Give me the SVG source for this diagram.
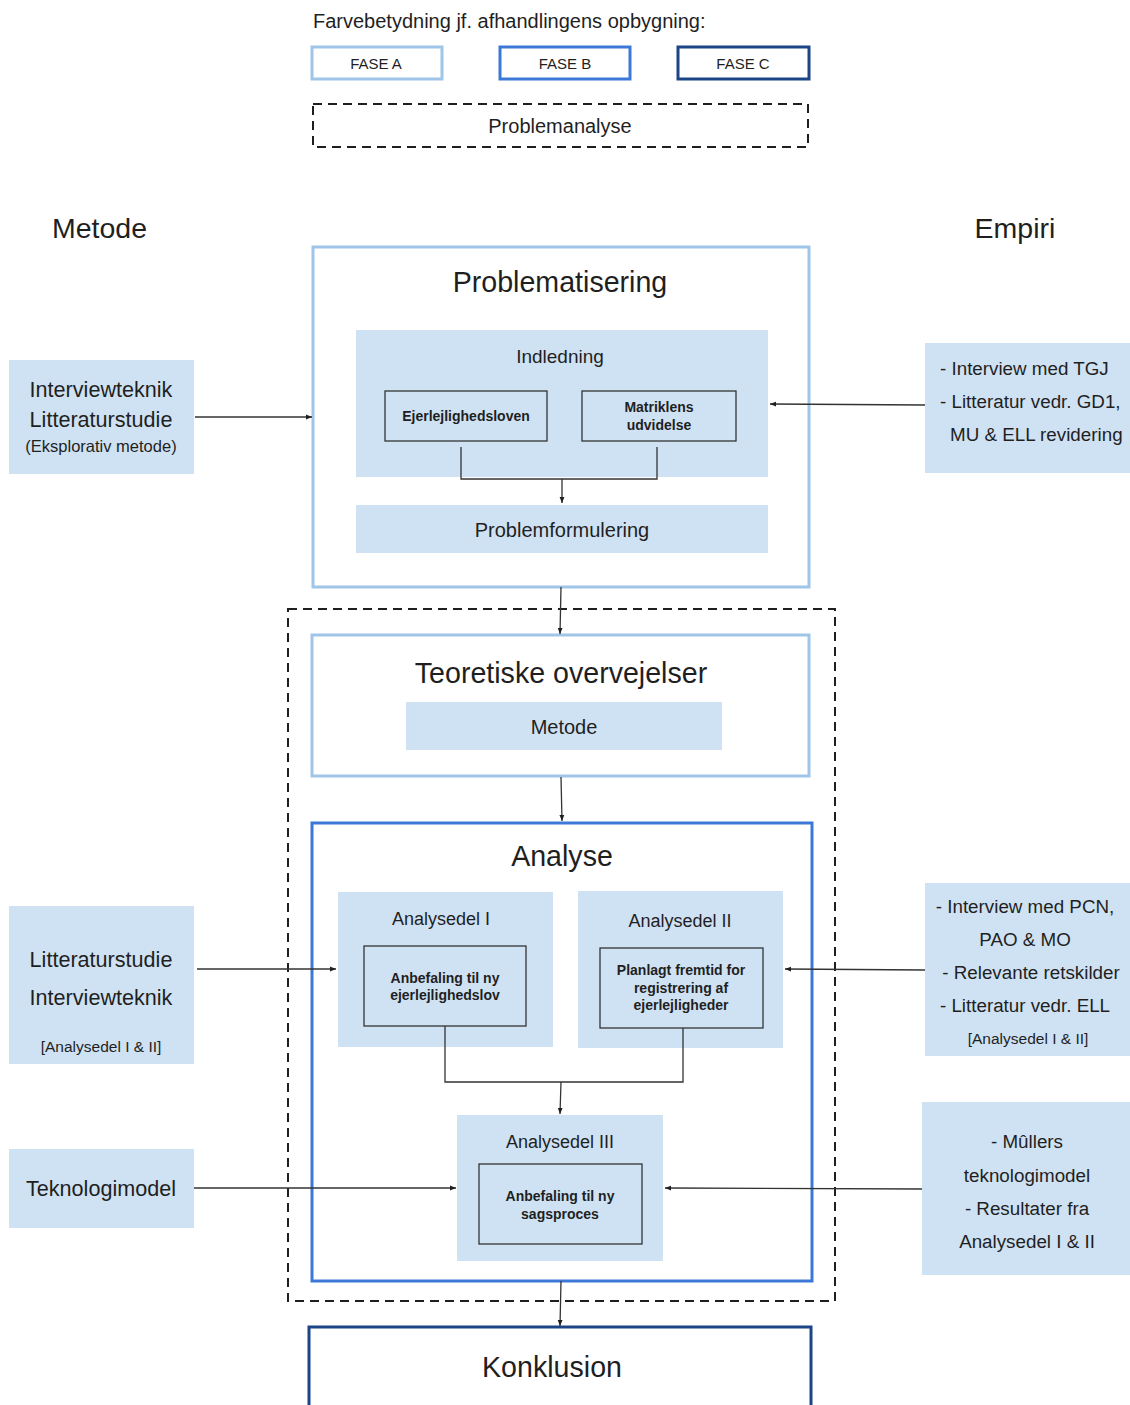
<svg xmlns="http://www.w3.org/2000/svg" width="1130" height="1405" viewBox="0 0 1130 1405">
  <style>
    text { font-family: "Liberation Sans", Arial, sans-serif; fill: #1f1f1f; }
    .fill { fill: #cfe2f3; }
    .faseA { fill: #ffffff; stroke: #9fc5e8; stroke-width: 3; }
    .faseB { fill: #ffffff; stroke: #3c78d8; stroke-width: 3; }
    .faseC { fill: #ffffff; stroke: #1c4587; stroke-width: 3; }
    .inner { fill: none; stroke: #333333; stroke-width: 1.3; }
    .dash { fill: none; stroke: #1f1f1f; stroke-width: 2; stroke-dasharray: 9 6; }
    .conn { fill: none; stroke: #333333; stroke-width: 1.3; }
    .title { font-size: 28.6px; text-anchor: middle; }
    .sub { font-size: 19px; text-anchor: middle; }
    .bold { font-size: 14px; font-weight: bold; text-anchor: middle; }
    .side { font-size: 21.6px; text-anchor: middle; }
    .emp { font-size: 18.8px; }
    .small { font-size: 15.5px; text-anchor: middle; }
    .fase { font-size: 15px; text-anchor: middle; }
  </style>
  <defs>
    <marker id="arrow" viewBox="0 0 10 10" refX="10" refY="5" markerWidth="6" markerHeight="6" orient="auto" markerUnits="userSpaceOnUse">
      <path d="M0,1 L10,5 L0,9 z" fill="#1f1f1f"/>
    </marker>
  </defs>

  <!-- Legend -->
  <g id="legend">
    <text x="313" y="28" style="font-size:20px">Farvebetydning jf. afhandlingens opbygning:</text>
    <rect class="faseA" x="312" y="47" width="130" height="32"/>
    <text class="fase" x="376" y="69">FASE A</text>
    <rect class="faseB" x="500" y="47" width="130" height="32"/>
    <text class="fase" x="565" y="69">FASE B</text>
    <rect class="faseC" x="678" y="47" width="131" height="32"/>
    <text class="fase" x="743" y="69">FASE C</text>
    <rect class="dash" x="313" y="104" width="495" height="43"/>
    <text x="560" y="133" style="font-size:20px;text-anchor:middle">Problemanalyse</text>
  </g>

  <g id="headings">
    <text x="52" y="238" style="font-size:28.5px">Metode</text>
    <text x="1015" y="238" style="font-size:28.5px;text-anchor:middle">Empiri</text>
  </g>

  <!-- Problematisering -->
  <g id="problematisering">
    <rect class="faseA" x="313" y="247" width="496" height="340"/>
    <text class="title" x="560" y="292">Problematisering</text>
  </g>
  <g id="indledning">
    <rect class="fill" x="356" y="330" width="412" height="147"/>
    <text class="sub" x="560" y="363">Indledning</text>
  </g>
  <g id="ejerlejlighedsloven">
    <rect class="inner" x="385" y="391" width="162" height="50"/>
    <text class="bold" x="466" y="421">Ejerlejlighedsloven</text>
  </g>
  <g id="matriklens">
    <rect class="inner" x="582" y="391" width="154" height="50"/>
    <text class="bold" x="659" y="412">Matriklens</text>
    <text class="bold" x="659" y="430">udvidelse</text>
  </g>
  <g id="problemformulering">
    <rect class="fill" x="356" y="505" width="412" height="48"/>
    <text x="562" y="537" style="font-size:20px;text-anchor:middle">Problemformulering</text>
  </g>

  <!-- Side boxes, top -->
  <g id="metode-1">
    <rect class="fill" x="9" y="360" width="185" height="114"/>
    <text class="side" x="101" y="397">Interviewteknik</text>
    <text class="side" x="101" y="427">Litteraturstudie</text>
    <text x="101" y="452" style="font-size:16.5px;text-anchor:middle">(Eksplorativ metode)</text>
  </g>
  <g id="empiri-1">
    <rect class="fill" x="925" y="343" width="205" height="130"/>
    <text class="emp" x="940" y="375">- Interview med TGJ</text>
    <text class="emp" x="940" y="408">- Litteratur vedr. GD1,</text>
    <text class="emp" x="950" y="441">MU &amp; ELL revidering</text>
  </g>

  <!-- Dashed frame around theory and analysis -->
  <g id="frame">
    <rect class="dash" x="288" y="609" width="547" height="692"/>
  </g>

  <g id="teoretiske">
    <rect class="faseA" x="312" y="635" width="497" height="141"/>
    <text class="title" x="561" y="683">Teoretiske overvejelser</text>
  </g>
  <g id="metode">
    <rect class="fill" x="406" y="702" width="316" height="48"/>
    <text x="564" y="734" style="font-size:20px;text-anchor:middle">Metode</text>
  </g>

  <!-- Analyse -->
  <g id="analyse">
    <rect class="faseB" x="312" y="823" width="500" height="458"/>
    <text class="title" x="562" y="866">Analyse</text>
  </g>
  <g id="analysedel-1">
    <rect class="fill" x="338" y="892" width="215" height="155"/>
    <text x="441" y="925" style="font-size:18px;text-anchor:middle">Analysedel I</text>
    <rect class="inner" x="364" y="946" width="162" height="80"/>
    <text class="bold" x="445" y="983">Anbefaling til ny</text>
    <text class="bold" x="445" y="1000">ejerlejlighedslov</text>
  </g>
  <g id="analysedel-2">
    <rect class="fill" x="578" y="891" width="205" height="157"/>
    <text x="680" y="927" style="font-size:18px;text-anchor:middle">Analysedel II</text>
    <rect class="inner" x="600" y="948" width="163" height="80"/>
    <text class="bold" x="681" y="975">Planlagt fremtid for</text>
    <text class="bold" x="681" y="993">registrering af</text>
    <text class="bold" x="681" y="1010">ejerlejligheder</text>
  </g>
  <g id="analysedel-3">
    <rect class="fill" x="457" y="1115" width="206" height="146"/>
    <text x="560" y="1148" style="font-size:18px;text-anchor:middle">Analysedel III</text>
    <rect class="inner" x="479" y="1164" width="163" height="80"/>
    <text class="bold" x="560" y="1201">Anbefaling til ny</text>
    <text class="bold" x="560" y="1219">sagsproces</text>
  </g>

  <!-- Side boxes, analysis -->
  <g id="metode-2">
    <rect class="fill" x="9" y="906" width="185" height="158"/>
    <text class="side" x="101" y="967">Litteraturstudie</text>
    <text class="side" x="101" y="1005">Interviewteknik</text>
    <text class="small" x="101" y="1052">[Analysedel I &amp; II]</text>
  </g>
  <g id="empiri-2">
    <rect class="fill" x="925" y="883" width="205" height="173"/>
    <text class="emp" x="1025" y="913" text-anchor="middle">- Interview med PCN,</text>
    <text class="emp" x="1025" y="946" text-anchor="middle">PAO &amp; MO</text>
    <text class="emp" x="1031" y="979" text-anchor="middle">- Relevante retskilder</text>
    <text class="emp" x="1025" y="1012" text-anchor="middle">- Litteratur vedr. ELL</text>
    <text class="small" x="1028" y="1044">[Analysedel I &amp; II]</text>
  </g>
  <g id="metode-3">
    <rect class="fill" x="9" y="1149" width="185" height="79"/>
    <text class="side" x="101" y="1196">Teknologimodel</text>
  </g>
  <g id="empiri-3">
    <rect class="fill" x="922" y="1102" width="208" height="173"/>
    <text class="emp" x="1027" y="1148" text-anchor="middle">- Mûllers</text>
    <text class="emp" x="1027" y="1182" text-anchor="middle">teknologimodel</text>
    <text class="emp" x="1027" y="1215" text-anchor="middle">- Resultater fra</text>
    <text class="emp" x="1027" y="1248" text-anchor="middle">Analysedel I &amp; II</text>
  </g>

  <!-- Konklusion -->
  <g id="konklusion">
    <rect class="faseC" x="309" y="1327" width="502" height="90"/>
    <text class="title" x="552" y="1377">Konklusion</text>
  </g>

  <!-- Connectors -->
  <g id="connectors">
    <path class="conn" d="M461,447 V479 H657 V447"/>
    <path class="conn" d="M562,479 V503" marker-end="url(#arrow)"/>
    <path class="conn" d="M195,417 H312" marker-end="url(#arrow)"/>
    <path class="conn" d="M925,405 L770,404" marker-end="url(#arrow)"/>
    <path class="conn" d="M561,587 L560,634" marker-end="url(#arrow)"/>
    <path class="conn" d="M561,777 L562,821" marker-end="url(#arrow)"/>
    <path class="conn" d="M445,1026 V1082 H683 V1028"/>
    <path class="conn" d="M561,1082 L560,1114" marker-end="url(#arrow)"/>
    <path class="conn" d="M197,969 H336" marker-end="url(#arrow)"/>
    <path class="conn" d="M925,970 L785,969" marker-end="url(#arrow)"/>
    <path class="conn" d="M194,1188 H456" marker-end="url(#arrow)"/>
    <path class="conn" d="M922,1189 L665,1188" marker-end="url(#arrow)"/>
    <path class="conn" d="M561,1281 L560,1326" marker-end="url(#arrow)"/>
  </g>
</svg>
